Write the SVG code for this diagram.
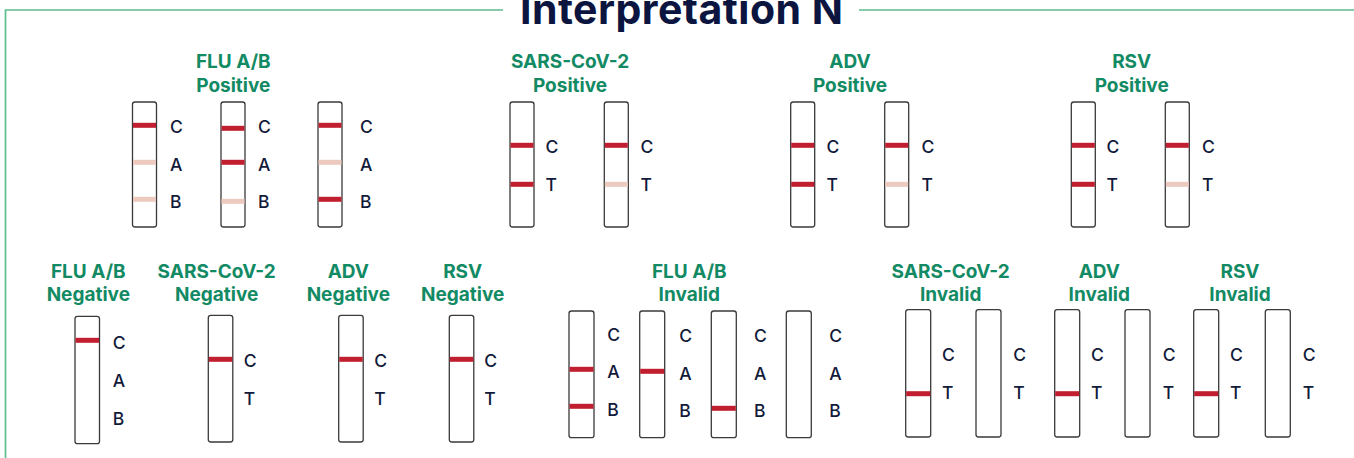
<svg xmlns="http://www.w3.org/2000/svg" width="1354" height="458" viewBox="0 0 1354 458">
<style>
.frame{stroke:#5dbd8d;stroke-width:1.7;fill:none}
.title{font-family:Inter,"Liberation Sans",sans-serif;font-weight:700;font-size:41px;fill:#0b1540}
.hd{font-family:Inter,"Liberation Sans",sans-serif;font-weight:700;font-size:19px;fill:#128a64;text-anchor:middle}
.lb{font-family:Inter,"Liberation Sans",sans-serif;font-weight:500;font-size:17.5px;fill:#121a3a}
.strip{fill:#fff;stroke:#3a3a3a;stroke-width:1.3}
.red{fill:#c11f30}
.pink{fill:#edcabf}
</style>
<rect width="1354" height="458" fill="#fff"/>
<g id="frame">
<polyline class="frame" points="5.5,458 5.5,10 503,10"/>
<line class="frame" x1="859" y1="10" x2="1354" y2="10"/>
<text class="title" x="520" y="24" textLength="323">Interpretation N</text>
</g>
<g id="connectors"></g>

<!-- Row 1 -->
<g id="flu-positive">
<text class="hd" x="233.3" y="67.7">FLU A/B</text>
<text class="hd" x="233.3" y="92.3">Positive</text>
<rect class="strip" x="132.5" y="102" width="24" height="125" rx="2.5"/>
<rect class="red" x="133" y="122.8" width="23" height="5"/>
<rect class="pink" x="133" y="159.8" width="23" height="5"/>
<rect class="pink" x="133" y="196.8" width="23" height="5"/>
<text class="lb" x="170" y="133.4">C</text><text class="lb" x="170" y="171">A</text><text class="lb" x="170" y="208">B</text>
<rect class="strip" x="221" y="102" width="24" height="125" rx="2.5"/>
<rect class="red" x="221.5" y="125.8" width="23" height="5"/>
<rect class="red" x="221.5" y="159.8" width="23" height="5"/>
<rect class="pink" x="221.5" y="198.8" width="23" height="5"/>
<text class="lb" x="258" y="133.4">C</text><text class="lb" x="258" y="171">A</text><text class="lb" x="258" y="208">B</text>
<rect class="strip" x="318" y="102" width="24" height="125" rx="2.5"/>
<rect class="red" x="318.5" y="122.8" width="23" height="5"/>
<rect class="pink" x="318.5" y="159.8" width="23" height="5"/>
<rect class="red" x="318.5" y="196.8" width="23" height="5"/>
<text class="lb" x="360" y="133.4">C</text><text class="lb" x="360" y="171">A</text><text class="lb" x="360" y="208">B</text>
</g>

<g id="sars-positive">
<text class="hd" x="570" y="67.7">SARS-CoV-2</text>
<text class="hd" x="570" y="92.3">Positive</text>
<rect class="strip" x="510" y="102" width="24" height="125" rx="2.5"/>
<rect class="red" x="510.5" y="142.8" width="23" height="5"/>
<rect class="red" x="510.5" y="181.8" width="23" height="5"/>
<text class="lb" x="545.5" y="153">C</text><text class="lb" x="545.5" y="190.7">T</text>
<rect class="strip" x="604.3" y="102" width="24" height="125" rx="2.5"/>
<rect class="red" x="604.8" y="142.8" width="23" height="5"/>
<rect class="pink" x="604.8" y="181.8" width="23" height="5"/>
<text class="lb" x="640.5" y="153">C</text><text class="lb" x="640.5" y="190.7">T</text>
</g>

<g id="adv-positive">
<text class="hd" x="850" y="67.7">ADV</text>
<text class="hd" x="850" y="92.3">Positive</text>
<rect class="strip" x="790.7" y="102" width="24" height="125" rx="2.5"/>
<rect class="red" x="791.2" y="142.8" width="23" height="5"/>
<rect class="red" x="791.2" y="181.8" width="23" height="5"/>
<text class="lb" x="826.5" y="153">C</text><text class="lb" x="826.5" y="190.7">T</text>
<rect class="strip" x="884.7" y="102" width="24" height="125" rx="2.5"/>
<rect class="red" x="885.2" y="142.8" width="23" height="5"/>
<rect class="pink" x="885.2" y="181.8" width="23" height="5"/>
<text class="lb" x="921.5" y="153">C</text><text class="lb" x="921.5" y="190.7">T</text>
</g>

<g id="rsv-positive">
<text class="hd" x="1131.7" y="67.7">RSV</text>
<text class="hd" x="1131.7" y="92.3">Positive</text>
<rect class="strip" x="1071.3" y="102" width="24" height="125" rx="2.5"/>
<rect class="red" x="1071.8" y="142.8" width="23" height="5"/>
<rect class="red" x="1071.8" y="181.8" width="23" height="5"/>
<text class="lb" x="1106.5" y="153">C</text><text class="lb" x="1106.5" y="190.7">T</text>
<rect class="strip" x="1165.3" y="102" width="24" height="125" rx="2.5"/>
<rect class="red" x="1165.8" y="142.8" width="23" height="5"/>
<rect class="pink" x="1165.8" y="181.8" width="23" height="5"/>
<text class="lb" x="1202" y="153">C</text><text class="lb" x="1202" y="190.7">T</text>
</g>

<!-- Row 2 -->
<g id="flu-negative">
<text class="hd" x="88.3" y="277.7">FLU A/B</text>
<text class="hd" x="88.3" y="301">Negative</text>
<rect class="strip" x="75" y="316.3" width="24.5" height="127.4" rx="2.5"/>
<rect class="red" x="75.5" y="337.8" width="23.5" height="5"/>
<text class="lb" x="112.7" y="349">C</text><text class="lb" x="112.7" y="387">A</text><text class="lb" x="112.7" y="424.5">B</text>
</g>

<g id="sars-negative">
<text class="hd" x="216.7" y="277.7">SARS-CoV-2</text>
<text class="hd" x="216.7" y="301">Negative</text>
<rect class="strip" x="208.3" y="315.3" width="24.5" height="126.7" rx="2.5"/>
<rect class="red" x="208.8" y="356.8" width="23.5" height="5"/>
<text class="lb" x="243.7" y="367">C</text><text class="lb" x="243.7" y="404.5">T</text>
</g>

<g id="adv-negative">
<text class="hd" x="348.3" y="277.7">ADV</text>
<text class="hd" x="348.3" y="301">Negative</text>
<rect class="strip" x="338.7" y="315.3" width="24.5" height="126.7" rx="2.5"/>
<rect class="red" x="339.2" y="356.8" width="23.5" height="5"/>
<text class="lb" x="374.3" y="367">C</text><text class="lb" x="374.3" y="404.5">T</text>
</g>

<g id="rsv-negative">
<text class="hd" x="462.7" y="277.7">RSV</text>
<text class="hd" x="462.7" y="301">Negative</text>
<rect class="strip" x="449.3" y="315.3" width="24.5" height="126.7" rx="2.5"/>
<rect class="red" x="449.8" y="356.8" width="23.5" height="5"/>
<text class="lb" x="484.3" y="367">C</text><text class="lb" x="484.3" y="404.5">T</text>
</g>

<g id="flu-invalid">
<text class="hd" x="689.3" y="277.7">FLU A/B</text>
<text class="hd" x="689.3" y="301">Invalid</text>
<rect class="strip" x="569" y="311" width="25" height="126.7" rx="2.5"/>
<rect class="red" x="569.5" y="366.8" width="24" height="5"/>
<rect class="red" x="569.5" y="403.8" width="24" height="5"/>
<text class="lb" x="607.3" y="340.5">C</text><text class="lb" x="607.3" y="378">A</text><text class="lb" x="607.3" y="415.5">B</text>
<rect class="strip" x="639.7" y="311" width="25" height="126.7" rx="2.5"/>
<rect class="red" x="640.2" y="368.8" width="24" height="5"/>
<text class="lb" x="679.3" y="342">C</text><text class="lb" x="679.3" y="379.5">A</text><text class="lb" x="679.3" y="417">B</text>
<rect class="strip" x="711.3" y="311" width="25" height="126.7" rx="2.5"/>
<rect class="red" x="711.8" y="405.8" width="24" height="5"/>
<text class="lb" x="754" y="342">C</text><text class="lb" x="754" y="379.5">A</text><text class="lb" x="754" y="417">B</text>
<rect class="strip" x="786.3" y="311" width="25" height="126.7" rx="2.5"/>
<text class="lb" x="829.3" y="342">C</text><text class="lb" x="829.3" y="379.5">A</text><text class="lb" x="829.3" y="417">B</text>
</g>

<g id="sars-invalid">
<text class="hd" x="950.7" y="277.7">SARS-CoV-2</text>
<text class="hd" x="950.7" y="301">Invalid</text>
<rect class="strip" x="905.7" y="309.7" width="25" height="127.3" rx="2.5"/>
<rect class="red" x="906.2" y="391.2" width="24" height="5"/>
<text class="lb" x="942" y="360.7">C</text><text class="lb" x="942" y="398.7">T</text>
<rect class="strip" x="976" y="309.7" width="25" height="127.3" rx="2.5"/>
<text class="lb" x="1013.3" y="360.7">C</text><text class="lb" x="1013.3" y="398.7">T</text>
</g>

<g id="adv-invalid">
<text class="hd" x="1099.3" y="277.7">ADV</text>
<text class="hd" x="1099.3" y="301">Invalid</text>
<rect class="strip" x="1054.7" y="309.7" width="25" height="127.3" rx="2.5"/>
<rect class="red" x="1055.2" y="391.2" width="24" height="5"/>
<text class="lb" x="1091" y="360.7">C</text><text class="lb" x="1091" y="398.7">T</text>
<rect class="strip" x="1125" y="309.7" width="25" height="127.3" rx="2.5"/>
<text class="lb" x="1162.7" y="360.7">C</text><text class="lb" x="1162.7" y="398.7">T</text>
</g>

<g id="rsv-invalid">
<text class="hd" x="1240" y="277.7">RSV</text>
<text class="hd" x="1240" y="301">Invalid</text>
<rect class="strip" x="1193.7" y="309.7" width="25" height="127.3" rx="2.5"/>
<rect class="red" x="1194.2" y="391.2" width="24" height="5"/>
<text class="lb" x="1230" y="360.7">C</text><text class="lb" x="1230" y="398.7">T</text>
<rect class="strip" x="1265.3" y="309.7" width="25" height="127.3" rx="2.5"/>
<text class="lb" x="1302.7" y="360.7">C</text><text class="lb" x="1302.7" y="398.7">T</text>
</g>
</svg>
